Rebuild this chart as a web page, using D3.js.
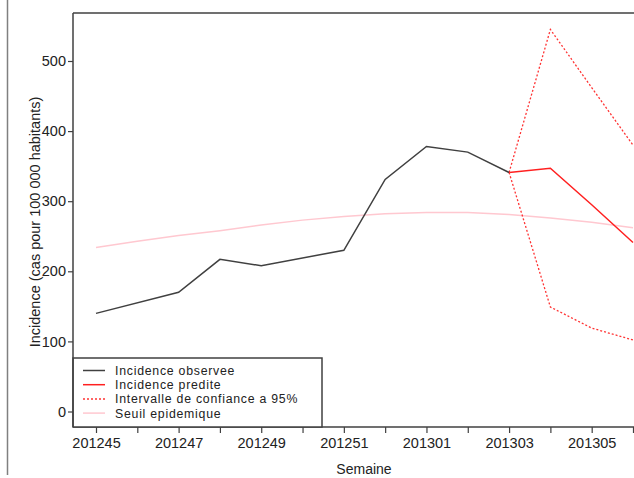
<!DOCTYPE html>
<html><head><meta charset="utf-8">
<script src="https://cdn.jsdelivr.net/npm/d3@7"></script>
<style>body{margin:0;background:#fff}svg{display:block}text{font-family:"Liberation Sans",Arial,sans-serif;fill:#222}</style>
</head><body><svg id="c" width="634" height="478"></svg>
<script>
const weeks = ["201245","201246","201247","201248","201249","201250","201251","201252","201301","201302","201303","201304","201305","201306"];
const tickLabels = ["201245","201247","201249","201251","201301","201303","201305"];
const yTicks = [0,100,200,300,400,500];
const obsWeeks = ["201245","201247","201248","201249","201251","201252","201301","201302","201303"];
const obsValues = [140,170,217,208,230,331,378,370,341];
const predWeeks = ["201303","201304","201305","201306"];
const predValues = [341,347,295,241];
const ciUpper = [341,545,462,380];
const ciLower = [341,149,119,102];
const seuilValues = [234,243,251,258,266,273,278,282,284,284,281,276,270,262];
const legendLabels = ["Incidence observee","Incidence predite","Intervalle de confiance a 95%","Seuil epidemique"];

(function(){
const svg = d3.select("#c");
const pL = 73, pT = 13, pB = 427, pR = 700;
const x = d3.scalePoint().domain(weeks).range([96, 633]);
const y = d3.scaleLinear().domain([0,500]).range([411.5, 61]);
const axisCol = "#404040";

svg.append("line").attr("x1",7.5).attr("x2",7.5).attr("y1",0).attr("y2",475).attr("stroke","#808080").attr("stroke-width",1.5);

svg.append("clipPath").attr("id","clip").append("rect").attr("x",pL).attr("y",pT).attr("width",pR-pL).attr("height",pB-pT);

const line = d3.line().x(d=>x(d[0])).y(d=>y(d[1]));
const g = svg.append("g").attr("clip-path","url(#clip)");
g.append("path").datum(weeks.map((w,i)=>[w,seuilValues[i]])).attr("d",line).attr("fill","none").attr("stroke","#ffc8d0").attr("stroke-width",1.5);
g.append("path").datum(predWeeks.map((w,i)=>[w,ciUpper[i]])).attr("d",line).attr("fill","none").attr("stroke","#ff3333").attr("stroke-width",1.3).attr("stroke-dasharray","2,2");
g.append("path").datum(predWeeks.map((w,i)=>[w,ciLower[i]])).attr("d",line).attr("fill","none").attr("stroke","#ff3333").attr("stroke-width",1.3).attr("stroke-dasharray","2,2");
g.append("path").datum(obsWeeks.map((w,i)=>[w,obsValues[i]])).attr("d",line).attr("fill","none").attr("stroke","#404040").attr("stroke-width",1.5);
g.append("path").datum(predWeeks.map((w,i)=>[w,predValues[i]])).attr("d",line).attr("fill","none").attr("stroke","#ff2020").attr("stroke-width",1.5);

svg.append("line").attr("x1",pL).attr("x2",634).attr("y1",pT).attr("y2",pT).attr("stroke",axisCol).attr("stroke-width",1.5);

const ya = svg.append("g").attr("transform",`translate(${pL},0)`)
  .call(d3.axisLeft(y).tickValues(yTicks).tickSize(5).tickPadding(2).tickFormat(d3.format("d")));
ya.select(".domain").remove();
ya.selectAll(".tick line").attr("stroke",axisCol).attr("stroke-width",1.2);
ya.selectAll(".tick text").attr("font-size",14.5).attr("fill","#222").attr("font-family","Liberation Sans, Arial, sans-serif");

const xa = svg.append("g").attr("transform",`translate(0,${pB})`)
  .call(d3.axisBottom(x).tickSize(6).tickPadding(5).tickFormat(d=>tickLabels.includes(d)?d:""));
xa.select(".domain").remove();
xa.append("line").attr("x1",pL).attr("x2",634).attr("y1",0).attr("y2",0).attr("stroke",axisCol).attr("stroke-width",1.5);
xa.selectAll(".tick line").attr("stroke",axisCol).attr("stroke-width",1.2);
xa.selectAll(".tick text").attr("font-size",14.5).attr("fill","#222").attr("font-family","Liberation Sans, Arial, sans-serif");

svg.append("text").attr("transform","translate(40,222) rotate(-90)").attr("text-anchor","middle").attr("font-size",14.5).text("Incidence (cas pour 100 000 habitants)");
svg.append("text").attr("x",364).attr("y",474).attr("text-anchor","middle").attr("font-size",14).text("Semaine");

const lg = svg.append("g");
lg.append("rect").attr("x",pL).attr("y",358).attr("width",322-pL).attr("height",pB-358).attr("fill","#fff").attr("stroke",axisCol).attr("stroke-width",1.5);
const styles = [
  {c:"#404040",d:null},{c:"#ff2020",d:null},{c:"#ff3333",d:"2,2"},{c:"#ffc8d0",d:null}
];
legendLabels.forEach((l,i)=>{
  const yy = 370.5 + i*14.2;
  lg.append("line").attr("x1",83).attr("x2",105).attr("y1",yy).attr("y2",yy).attr("stroke",styles[i].c).attr("stroke-width",1.5).attr("stroke-dasharray",styles[i].d);
  lg.append("text").attr("x",115).attr("y",yy+4.5).attr("font-size",12.3).attr("letter-spacing","0.75px").text(l);
});
svg.append("line").attr("x1",pL).attr("x2",pL).attr("y1",pT).attr("y2",pB).attr("stroke",axisCol).attr("stroke-width",1.5);
})();
</script></body></html>
